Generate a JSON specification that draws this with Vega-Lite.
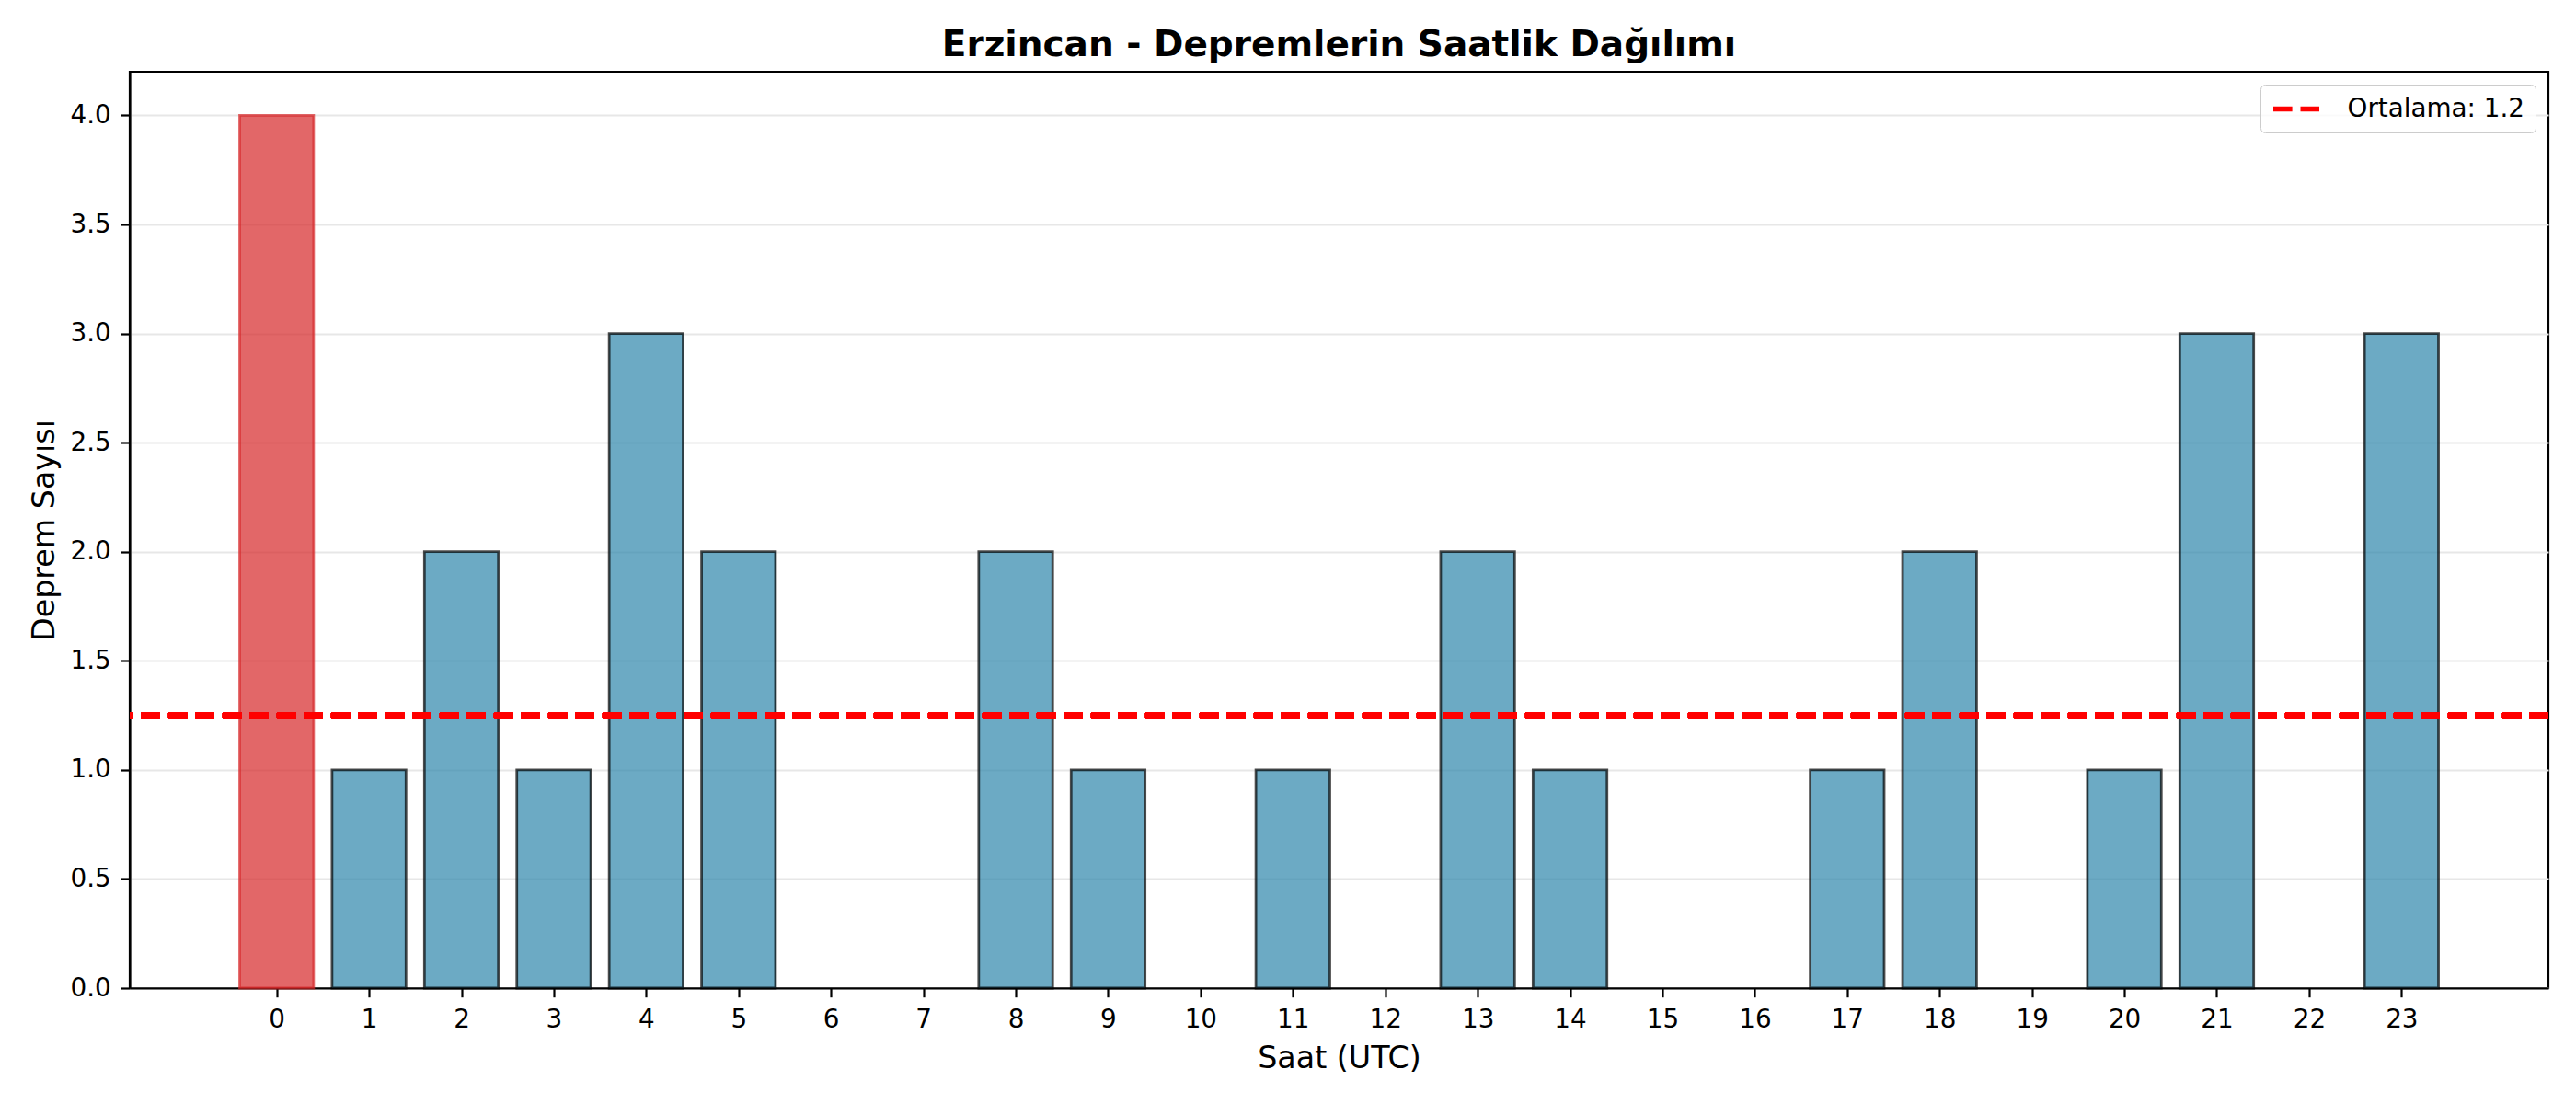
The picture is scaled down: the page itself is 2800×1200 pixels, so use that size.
{
  "$schema": "https://vega.github.io/schema/vega-lite/v6.json",
  "width": 2629,
  "height": 996,
  "autosize": {"type": "none"},
  "padding": {"top": 78, "left": 141, "right": 30, "bottom": 126},
  "background": "white",
  "config": {
    "font": "DejaVu Sans",
    "view": {"stroke": "black", "strokeWidth": 2.2},
    "axis": {
      "labelFont": "DejaVu Sans",
      "labelFontSize": 27.8,
      "labelColor": "black",
      "titleFont": "DejaVu Sans",
      "titleFontSize": 33.3,
      "titleFontWeight": "normal",
      "titleColor": "black",
      "domainColor": "black",
      "domainWidth": 2.2,
      "tickColor": "black",
      "tickWidth": 2.2,
      "tickSize": 9.7,
      "labelPadding": 11
    }
  },
  "title": {
    "text": "Erzincan - Depremlerin Saatlik Dağılımı",
    "fontSize": 39,
    "fontWeight": "bold",
    "font": "DejaVu Sans",
    "color": "black",
    "anchor": "middle",
    "baseline": "alphabetic",
    "offset": -22
  },
  "data": {
    "values": [
      {"saat": 0, "sayi": 4},
      {"saat": 1, "sayi": 1},
      {"saat": 2, "sayi": 2},
      {"saat": 3, "sayi": 1},
      {"saat": 4, "sayi": 3},
      {"saat": 5, "sayi": 2},
      {"saat": 6, "sayi": 0},
      {"saat": 7, "sayi": 0},
      {"saat": 8, "sayi": 2},
      {"saat": 9, "sayi": 1},
      {"saat": 10, "sayi": 0},
      {"saat": 11, "sayi": 1},
      {"saat": 12, "sayi": 0},
      {"saat": 13, "sayi": 2},
      {"saat": 14, "sayi": 1},
      {"saat": 15, "sayi": 0},
      {"saat": 16, "sayi": 0},
      {"saat": 17, "sayi": 1},
      {"saat": 18, "sayi": 2},
      {"saat": 19, "sayi": 0},
      {"saat": 20, "sayi": 1},
      {"saat": 21, "sayi": 3},
      {"saat": 22, "sayi": 0},
      {"saat": 23, "sayi": 3}
    ]
  },
  "layer": [
    {
      "transform": [{"filter": "datum.sayi > 0"}],
      "mark": {"type": "bar", "width": 80.4, "strokeWidth": 2.8, "fillOpacity": 0.7, "strokeOpacity": 0.7},
      "encoding": {
        "x": {
          "field": "saat",
          "type": "quantitative",
          "scale": {"domain": [-1.59, 24.59], "nice": false, "zero": false, "padding": 0},
          "axis": {
            "title": "Saat (UTC)",
            "values": [0, 1, 2, 3, 4, 5, 6, 7, 8, 9, 10, 11, 12, 13, 14, 15, 16, 17, 18, 19, 20, 21, 22, 23],
            "format": "d",
            "labelAngle": 0,
            "grid": false,
            "titleBaseline": "alphabetic",
            "titleY": 86
          }
        },
        "y": {
          "field": "sayi",
          "type": "quantitative",
          "scale": {"domain": [0, 4.2], "nice": false},
          "axis": {
            "title": "Deprem Sayısı",
            "values": [0, 0.5, 1, 1.5, 2, 2.5, 3, 3.5, 4],
            "format": ".1f",
            "grid": true,
            "gridColor": "#e7e7e7",
            "gridWidth": 2.2,
            "titleBaseline": "alphabetic",
            "titleX": -83
          }
        },
        "fill": {
          "condition": {"test": "datum.sayi == 4", "value": "#d62728"},
          "value": "#2E86AB"
        },
        "stroke": {
          "condition": {"test": "datum.sayi == 4", "value": "#d62728"},
          "value": "black"
        }
      }
    },
    {
      "mark": {"type": "rule", "strokeWidth": 5.6, "strokeDash": [20.6, 8.9]},
      "encoding": {
        "y": {"datum": 1.25, "type": "quantitative"},
        "color": {
          "datum": "Ortalama: 1.2",
          "type": "nominal",
          "scale": {"range": ["#ff0000"]},
          "legend": {
            "title": null,
            "orient": "top-right",
            "offset": 14,
            "padding": 11,
            "fillColor": "rgba(255,255,255,0.8)",
            "strokeColor": "#cccccc",
            "cornerRadius": 5,
            "symbolType": "M-2,0H2",
            "symbolSize": 625,
            "symbolOffset": 12.5,
            "symbolStrokeWidth": 5.6,
            "symbolDash": [20.6, 8.9],
            "labelFont": "DejaVu Sans",
            "labelFontSize": 27.8,
            "labelColor": "black",
            "labelOffset": 40,
            "labelLimit": 500
          }
        }
      }
    }
  ]
}
